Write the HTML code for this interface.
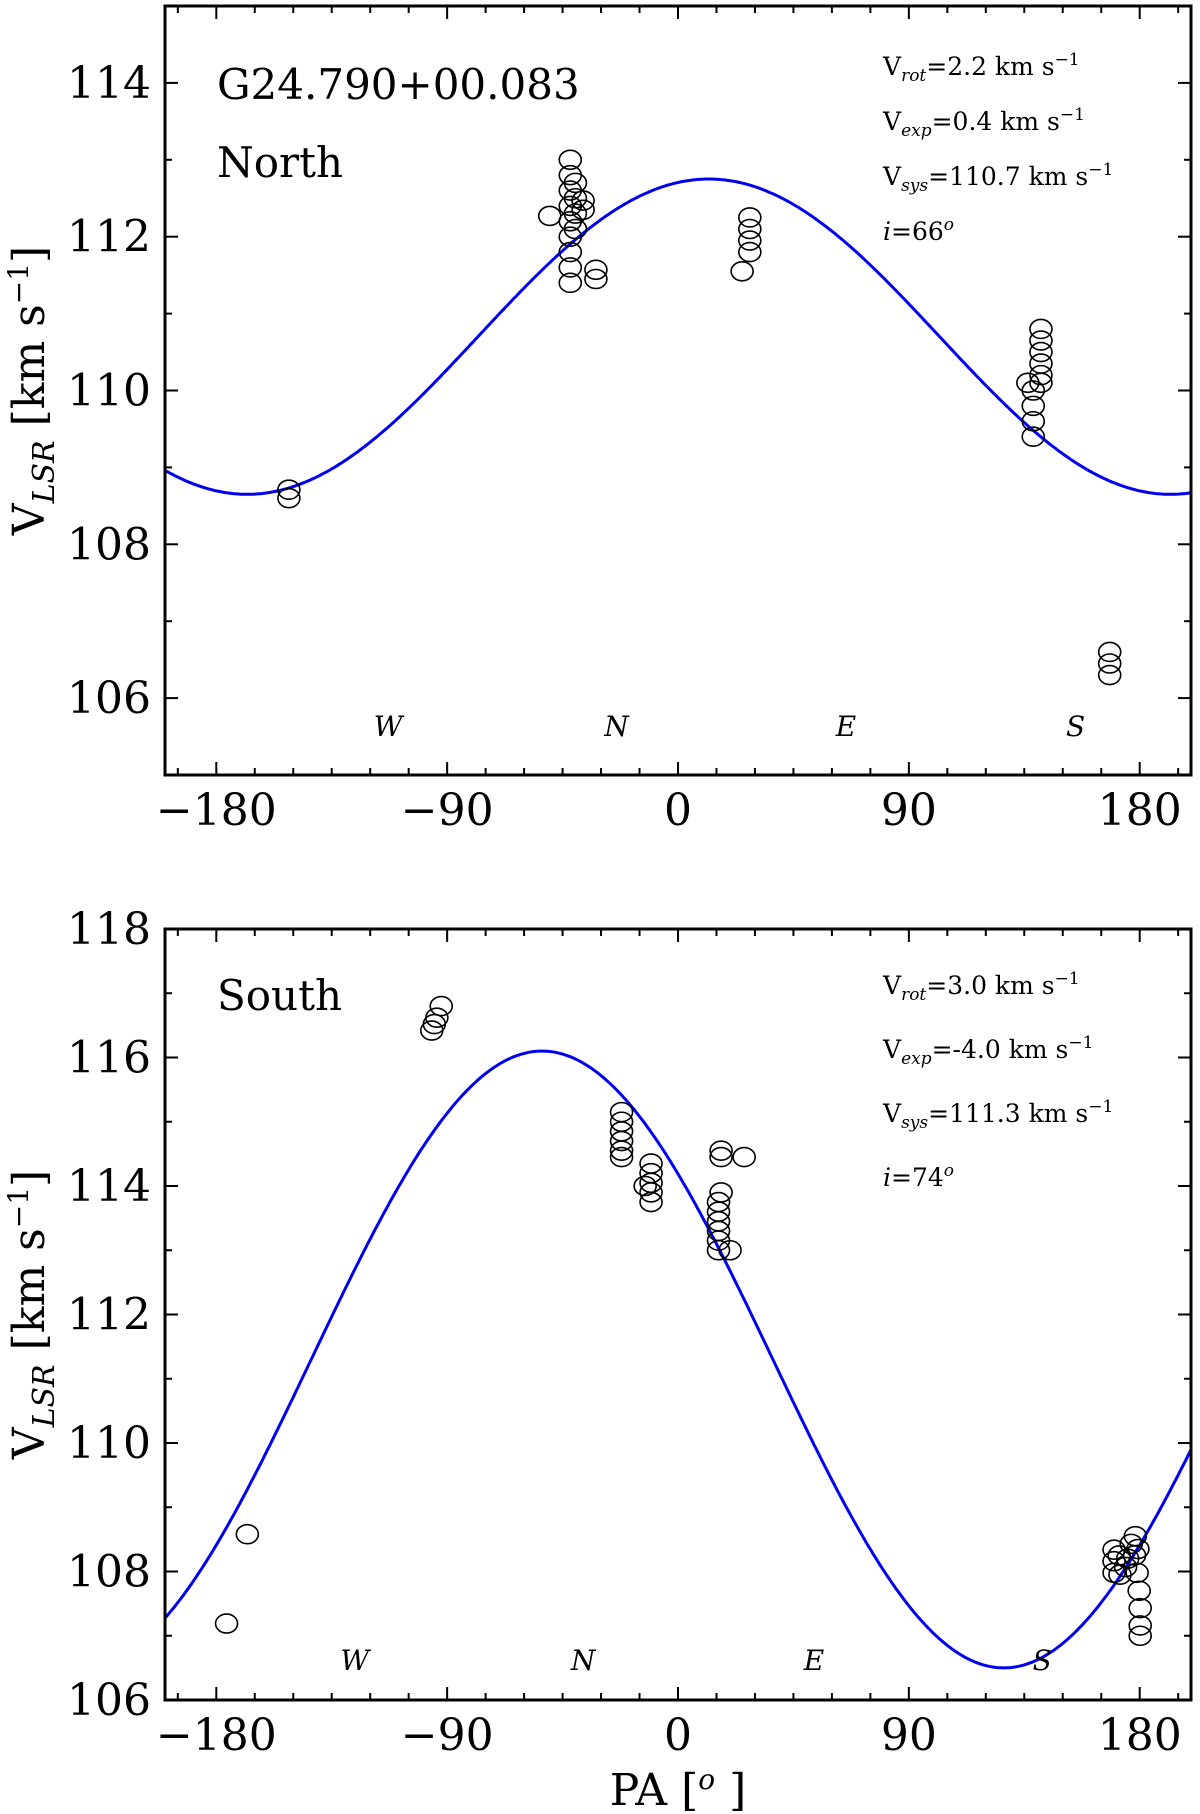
<!DOCTYPE html>
<html><head><meta charset="utf-8"><style>
body{margin:0;background:#fff}
svg{display:block}
text{font-family:"DejaVu Serif","Liberation Serif",serif;fill:#000}
</style></head><body>
<svg id="chart" width="1200" height="1814" viewBox="0 0 1200 1814" xmlns="http://www.w3.org/2000/svg"></svg>
<script>
// ---- data ----
const northPA = [-151.7,-151.7,-50,-42,-42,-42,-42,-42,-42,-42,-42,-42,-40,-40,-40,-40,-37,-37,-32,-32,25,28,28,28,28,136.4,138.5,138.5,138.5,138.5,141.5,141.5,141.5,141.5,141.5,141.5,168.3,168.3,168.3];
const northV  = [108.71,108.6,112.27,113.0,112.8,112.6,112.4,112.2,112.0,111.8,111.6,111.4,112.7,112.5,112.3,112.1,112.47,112.35,111.57,111.45,111.55,112.25,112.1,111.95,111.8,110.1,110.0,109.8,109.6,109.4,110.8,110.65,110.5,110.35,110.2,110.1,106.6,106.45,106.3];
const southPA = [-176,-167.9,-96,-95,-94,-92.3,-22,-22,-22,-22,-22,-22,-10.5,-10.5,-10.5,-10.5,-10.5,-12.8,15.8,15.8,15.8,15.8,15.8,15.8,16.8,16.8,16.8,20.3,25.8,170,170,170,172,174.5,176.7,178,179,179.8,180.2,180.2,180.2,172.3,175.3,178.3,179.3];
const southV  = [107.19,108.58,116.42,116.52,116.62,116.8,115.15,115.0,114.85,114.7,114.55,114.45,114.35,114.2,114.05,113.9,113.75,114.0,113.75,113.6,113.45,113.3,113.15,113.0,114.55,114.45,113.9,113.0,114.45,108.34,108.16,107.98,108.25,108.07,108.43,108.25,107.98,107.7,107.43,107.16,107.0,107.95,108.2,108.55,108.35];
// model parameters: [Vsys, amplitude, peakPA]
const northModel = [110.7, 2.05, 12];
const southModel = [111.3, 4.8, -53];
const xTicks = [-180,-90,0,90,180];
const northYTicks = [106,108,110,112,114];
const southYTicks = [106,108,110,112,114,116,118];
const dirLabels = ['W','N','E','S'];
const northDirPA = [-113,-24,65.5,155];
const southDirPA = [-126,-37,53,142];

const NS="http://www.w3.org/2000/svg";
const svg=document.getElementById('chart');
function mk(tag,attrs,parent){const e=document.createElementNS(NS,tag);for(const k in attrs)e.setAttribute(k,attrs[k]);(parent||svg).appendChild(e);return e;}

function panel(o){
  const g=mk('g',{});
  
  
  const L=165,R=1191,T=o.top,B=o.bottom;
  const sx=v=>L+(v+200)/400*(R-L);
  const sy=v=>B-(v-o.ymin)/(o.ymax-o.ymin)*(B-T);
  for(let v=-195;v<=195;v+=15){
    const major=v%90===0;const len=major?13:7;
    mk('line',{x1:sx(v),x2:sx(v),y1:B,y2:B-len,stroke:'#000','stroke-width':2},g);
    mk('line',{x1:sx(v),x2:sx(v),y1:T,y2:T+len,stroke:'#000','stroke-width':2},g);
  }
  for(let v=o.ymin;v<=o.ymax;v+=1){
    const major=o.yt.includes(v);const len=major?13:7;
    mk('line',{x1:L,x2:L+len,y1:sy(v),y2:sy(v),stroke:'#000','stroke-width':2},g);
    mk('line',{x1:R,x2:R-len,y1:sy(v),y2:sy(v),stroke:'#000','stroke-width':2},g);
  }
  xTicks.forEach(v=>{const t=mk('text',{x:sx(v),y:B+50,'text-anchor':'middle','font-size':44},g);t.textContent=(v<0?'\u2212':'')+Math.abs(v);
    
    });
  o.yt.forEach(v=>{const t=mk('text',{x:L-14,y:sy(v)+15,'text-anchor':'end','font-size':44},g);t.textContent=v;
    
    });
  const m=o.model;let d='';
  for(let p=-200;p<=200;p+=1){const v=m[0]+m[1]*Math.cos((p-m[2])*Math.PI/180);d+=(p===-200?'M':'L')+sx(p).toFixed(1)+','+sy(v).toFixed(1);}
  const c=mk('path',{d:d,fill:'none',stroke:'#0000ee','stroke-width':3},g);
  
  
  o.pa.forEach((p,i)=>{const e=mk('ellipse',{cx:sx(p),cy:sy(o.v[i]),rx:11,ry:9.5,fill:'none',stroke:'#000','stroke-width':1.6},g);
    
    });
  mk('rect',{x:L,y:T,width:R-L,height:B-T,fill:'none',stroke:'#000','stroke-width':3},g);
  dirLabels.forEach((s,i)=>{const t=mk('text',{x:sx(o.dirPA[i]),y:o.dirY,'text-anchor':'middle','font-size':28,'font-style':'italic'},g);t.textContent=s;
    
    });
  const yl=mk('text',{transform:`translate(44,${(T+B)/2}) rotate(-90)`,'text-anchor':'middle','font-size':44},g);
  yl.innerHTML='V<tspan font-size="30" font-style="italic" dy="10">LSR</tspan><tspan dy="-10"> [km s</tspan><tspan font-size="28" dy="-16">\u22121</tspan><tspan dy="16">]</tspan>';
  
  
  o.labels.forEach((s,i)=>{const t=mk('text',{x:217,y:o.labelY+i*78,'font-size':42},g);t.textContent=s;
    
    });
  o.params.forEach((p,i)=>{const t=mk('text',{x:883,y:o.parY+i*o.parStep,'font-size':25},g);
    t.innerHTML=p;
    
    });
  return g;
}
const sup='<tspan font-size="17" dy="-10">\u22121</tspan>';
panel({name:'north-panel',top:6,bottom:775,ymin:105,ymax:115,yt:northYTicks,model:northModel,pa:northPA,v:northV,dirY:736,dirPA:northDirPA,
  labels:['G24.790+00.083','North'],labelY:99,parY:75,parStep:55,
  params:['V<tspan font-size="17" font-style="italic" dy="6">rot</tspan><tspan dy="-6">=2.2 km s</tspan>'+sup,
          'V<tspan font-size="17" font-style="italic" dy="6">exp</tspan><tspan dy="-6">=0.4 km s</tspan>'+sup,
          'V<tspan font-size="17" font-style="italic" dy="6">sys</tspan><tspan dy="-6">=110.7 km s</tspan>'+sup,
          '<tspan font-style="italic">i</tspan>=66<tspan font-size="17" font-style="italic" dy="-10">o</tspan>']});
panel({name:'south-panel',top:929,bottom:1700,ymin:106,ymax:118,yt:southYTicks,model:southModel,pa:southPA,v:southV,dirY:1670,dirPA:southDirPA,
  labels:['South'],labelY:1010,parY:994,parStep:64,
  params:['V<tspan font-size="17" font-style="italic" dy="6">rot</tspan><tspan dy="-6">=3.0 km s</tspan>'+sup,
          'V<tspan font-size="17" font-style="italic" dy="6">exp</tspan><tspan dy="-6">=-4.0 km s</tspan>'+sup,
          'V<tspan font-size="17" font-style="italic" dy="6">sys</tspan><tspan dy="-6">=111.3 km s</tspan>'+sup,
          '<tspan font-style="italic">i</tspan>=74<tspan font-size="17" font-style="italic" dy="-10">o</tspan>']});
const xl=mk('text',{x:678,y:1805,'text-anchor':'middle','font-size':44});
xl.innerHTML='PA [<tspan font-size="28" font-style="italic" dy="-16">o</tspan><tspan dy="16"> ]</tspan>';


</script>
</body></html>
